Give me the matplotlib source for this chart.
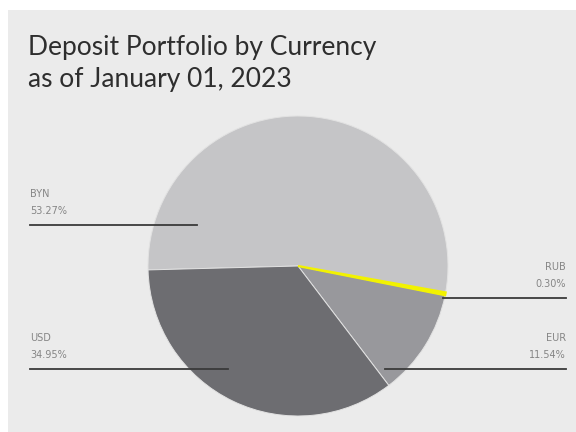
import matplotlib.pyplot as plt
from matplotlib.patches import Rectangle
from matplotlib.lines import Line2D

currencies = ["BYN", "RUB", "EUR", "USD"]
shares = [53.27, 0.30, 11.54, 34.95]
share_labels = ["53.27%", "0.30%", "11.54%", "34.95%"]
colors = ["#c5c5c7", "#f2f200", "#98989c", "#6d6d71"]

W, H = 576, 432
fig = plt.figure(figsize=(W / 100, H / 100), dpi=100)
fig.patch.set_facecolor("white")

# grey card behind everything
fig.patches.append(Rectangle((8 / W, 0), 1, 1 - 10 / H, transform=fig.transFigure,
                             facecolor="#ebebeb", edgecolor="none", zorder=-5))

title_font = ["Lato", "DejaVu Sans"]
fig.text(28 / W, 1 - 47 / H, "Deposit Portfolio by Currency", fontsize=19,
         color="#2e2e2e", family=title_font, va="center")
fig.text(28 / W, 1 - 80 / H, "as of January 01, 2023", fontsize=19,
         color="#2e2e2e", family=title_font, va="center")

# pie centred at (298, 266) px with radius 150 px
cx, cy, r = 298, 266, 150
ax = fig.add_axes([(cx - r) / W, (H - cy - r) / H, 2 * r / W, 2 * r / H])
ax.set_zorder(1)
wedges, _ = ax.pie(shares, colors=colors, startangle=181.5, counterclock=False,
                   wedgeprops=dict(edgecolor="#e2e2e2", linewidth=0.7))
# the thin RUB slice gets an outline in its own colour so it stays visible
wedges[1].set_edgecolor(colors[1])
wedges[1].set_linewidth(1.6)
wedges[1].set_zorder(3)
ax.set_xlim(-1, 1)
ax.set_ylim(-1, 1)
ax.axis("off")


def callout(name, value, x0, x1, y_line, align):
    fig.add_artist(Line2D([x0 / W, x1 / W], [1 - y_line / H, 1 - y_line / H],
                          transform=fig.transFigure, color="#3a3a3a", lw=1.3,
                          zorder=5))
    tx = x0 if align == "left" else x1
    fig.text(tx / W, 1 - (y_line - 31) / H, name, fontsize=7, color="#858585",
             ha=align, va="center", zorder=5)
    fig.text(tx / W, 1 - (y_line - 14) / H, value, fontsize=7, color="#858585",
             ha=align, va="center", zorder=5)


callout(currencies[0], share_labels[0], 30, 197, 225, "left")
callout(currencies[1], share_labels[1], 443, 566, 298, "right")
callout(currencies[2], share_labels[2], 385, 566, 369, "right")
callout(currencies[3], share_labels[3], 30, 228, 369, "left")

fig.savefig("out.png", dpi=100, facecolor=fig.get_facecolor())
